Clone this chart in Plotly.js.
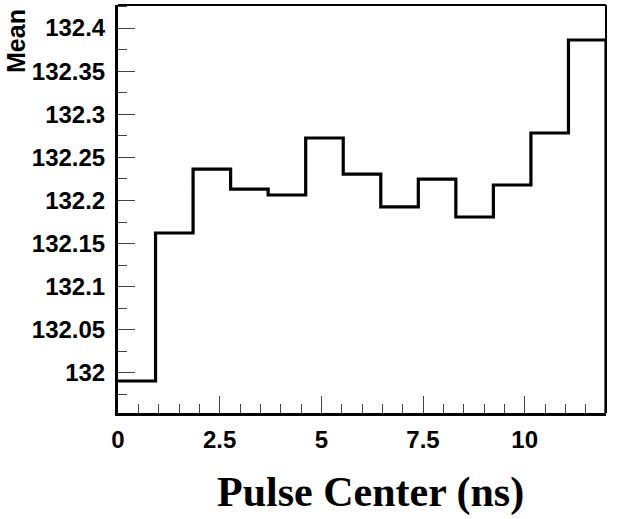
<!DOCTYPE html>
<html>
<head>
<meta charset="utf-8">
<script src="https://cdn.plot.ly/plotly-3.0.1.min.js"></script>
<style>html,body{margin:0;padding:0;background:#fff;}#chart{width:620px;height:519px;}</style>
</head>
<body>
<div id="chart"></div>
<script>
// Data (13 bins over 0..12 ns)
const binLow = 0;
const binHigh = 12;
const meanValues = [131.9907, 132.1623, 132.2365, 132.2133, 132.2064, 132.2725, 132.2307,
                    132.1925, 132.2249, 132.1809, 132.2180, 132.2783, 132.3861];
const yTickVals = [132, 132.05, 132.1, 132.15, 132.2, 132.25, 132.3, 132.35, 132.4];
const yTickText = ["132", "132.05", "132.1", "132.15", "132.2", "132.25", "132.3", "132.35", "132.4"];
const xTickVals = [0, 2.5, 5, 7.5, 10];
const xTickText = ["0", "2.5", "5", "7.5", "10"];
const yRange = [131.9536, 132.4267];

const nBins = meanValues.length;
const w = (binHigh - binLow) / nBins;
const xs = [], ys = [];
for (let i = 0; i < nBins; i++) { xs.push(binLow + i * w); ys.push(meanValues[i]); }
xs.push(binHigh); ys.push(meanValues[nBins - 1]);
xs.push(binHigh); ys.push(yRange[0]);

const tickFont = {family: "Liberation Sans, Arial, sans-serif", size: 24, color: "#000", weight: "bold"};

const trace = {
  x: xs, y: ys, type: "scatter", mode: "lines",
  line: {shape: "hv", color: "#000", width: 3.2},
  hoverinfo: "skip", cliponaxis: false
};

const layout = {
  width: 620, height: 519,
  margin: {l: 118, r: 14, t: 5, b: 106},
  paper_bgcolor: "#fff", plot_bgcolor: "#fff",
  showlegend: false,
  xaxis: {
    range: [binLow, binHigh], showgrid: false, zeroline: false,
    showline: true, linecolor: "#000", linewidth: 3,
    ticks: "inside", ticklen: 17, tickwidth: 1, tickcolor: "#444",
    tickvals: xTickVals, ticktext: xTickText, tickfont: tickFont,
    ticklabelstandoff: 3,
    minor: {dtick: 0.5, ticks: "inside", ticklen: 9, tickwidth: 1, tickcolor: "#444", showgrid: false}
  },
  yaxis: {
    range: yRange, showgrid: false, zeroline: false,
    showline: true, linecolor: "#000", linewidth: 3,
    ticks: "inside", ticklen: 17, tickwidth: 1, tickcolor: "#444",
    tickvals: yTickVals, ticktext: yTickText, tickfont: tickFont,
    ticklabelstandoff: 5,
    minor: {dtick: 0.025, tick0: 132, ticks: "inside", ticklen: 9, tickwidth: 1, tickcolor: "#444", showgrid: false}
  },
  shapes: [
    {type: "line", xref: "paper", yref: "paper", x0: 0, x1: 1, y0: 1, y1: 1, line: {color: "#000", width: 2}},
    {type: "line", xref: "paper", yref: "paper", x0: 1, x1: 1, y0: 0, y1: 1, line: {color: "#000", width: 2}}
  ],
  annotations: [
    {text: "Mean", textangle: -90, xref: "paper", yref: "paper",
     x: (16 - 118) / 488, y: 1, xanchor: "center", yanchor: "top", yshift: -2, showarrow: false,
     font: {family: "Liberation Sans, Arial, sans-serif", size: 25, color: "#000", weight: "bold"}},
    {text: "Pulse Center (ns)", xref: "paper", yref: "paper",
     x: (370 - 118) / 488, y: (413 - 492) / 408, xanchor: "center", yanchor: "middle", showarrow: false,
     font: {family: "Liberation Serif, Times New Roman, serif", size: 42, color: "#000", weight: "bold"}}
  ]
};

Plotly.newPlot("chart", [trace], layout, {displayModeBar: false, staticPlot: true});
</script>
</body>
</html>
